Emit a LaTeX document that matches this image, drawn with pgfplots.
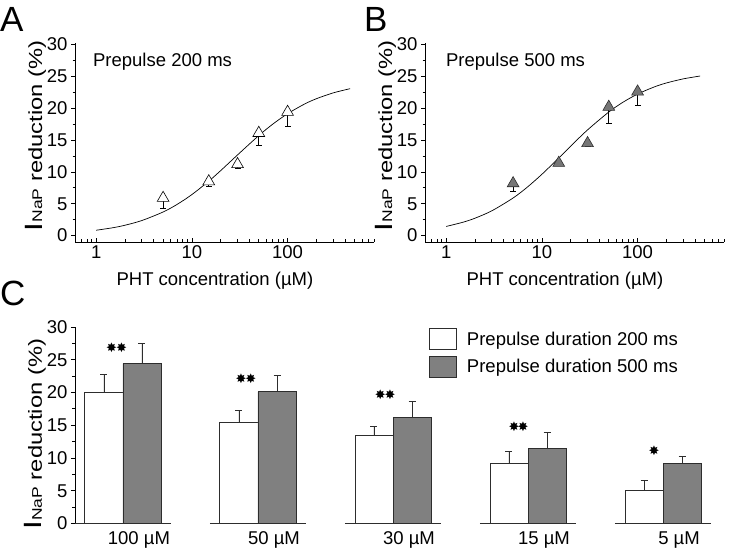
\documentclass[border=0pt]{standalone}
\usepackage{pgfplots}
\pgfplotsset{compat=1.18}
\usepackage{fontspec}
\setmainfont{Liberation Sans}
\newfontfamily\dejavu{DejaVu Sans}
\newfontfamily\stretchfont[FakeStretch=1.25]{Liberation Sans}
\definecolor{barg}{RGB}{128,128,128}
\definecolor{markg}{RGB}{118,118,118}
\definecolor{edge}{RGB}{45,45,45}

\newcommand{\ylab}{{\stretchfont\fontsize{25}{25}\selectfont I}{\stretchfont\fontsize{14}{14}\selectfont NaP}{\stretchfont\fontsize{19}{20}\selectfont\ reduction (\%)}}
\newcommand{\txt}{\fontsize{18.5}{20}\selectfont}
\newcommand{\letterfont}{\fontsize{35}{35}\selectfont}
\newcommand{\sstar}{{\dejavu\fontsize{13}{13}\selectfont ✸}}

\pgfplotsset{
  common/.style={
    scale only axis,
    axis lines*=left,
    axis line style={line width=0.9pt, black},
    tick style={line width=0.8pt, black},
    major tick length=4pt, minor tick length=2.5pt,
    ytick align=outside,
    tick label style={font=\txt},
    /pgf/number format/assume math mode=true,
    ylabel={\ylab},
    ytick={0,5,10,15,20,25,30},
    yticklabels={0,5,10,15,20,25,30},
    minor ytick={2.5,7.5,12.5,17.5,22.5,27.5},
    clip=false,
  },
  logax/.style={
    width=299pt, height=199.4pt,
    xmin=0.6, xmax=800, ymin=-1, ymax=30.3,
    xtick align=inside,
    xtick={1,10,100}, xticklabels={1,10,100},
    minor xtick={0.6,0.7,0.8,0.9,2,3,4,5,6,7,8,9,20,30,40,50,60,70,80,90,200,300,400,500,600,700,800},
    xlabel={PHT concentration (µM)},
    xlabel style={font=\txt, at={(axis description cs:0.468,-0.218)}, anchor=base},
    ylabel style={at={(axis description cs:-0.11,0.532)}, anchor=base},
  },
}

\begin{document}
\begin{tikzpicture}
\useasboundingbox (0pt,0pt) rectangle (729pt,-556pt);
\node[anchor=base west, inner sep=0pt, font=\letterfont] at (0pt,-32pt) {A};
\node[anchor=base west, inner sep=0pt, font=\letterfont] at (364pt,-32pt) {B};
\node[anchor=base west, inner sep=0pt, font=\letterfont] at (0pt,-306pt) {C};

% ---------------- Panel A
\begin{axis}[xmode=log, common, logax, at={(75pt,-242pt)}]
\addplot[black, line width=0.7pt, smooth] table {
x y
1 0.845
1.5 1.246
2 1.633
3 2.371
5 3.712
7 4.900
10 6.447
15 8.547
20 10.208
30 12.672
50 15.705
70 17.500
100 19.141
150 20.646
200 21.491
300 22.409
450 23.065
};
\addplot[only marks, mark=triangle*, mark size=6.8pt,
  mark options={fill=white, draw=black, line width=0.6pt},
  error bars/.cd, y dir=minus, y explicit,
  error bar style={line width=0.6pt, black},
  error mark options={line width=0.6pt, mark size=3pt, rotate=90}]
  table[x=x, y=y, y error=e] {
x y e
5 5.9 1.6
15 8.5 0.8
30 11.2 0.6
50 16.1 1.9
100 19.4 2.2
};
\node[anchor=base west, font=\txt, inner sep=0pt] at (axis description cs:0.06,0.878) {Prepulse 200 ms};
\end{axis}

% ---------------- Panel B
\begin{axis}[xmode=log, common, logax, at={(425pt,-242pt)}]
\addplot[black, line width=0.7pt, smooth] table {
x y
1 1.444
1.5 2.108
2 2.737
3 3.900
5 5.909
7 7.583
10 9.630
15 12.188
20 14.054
30 16.596
50 19.403
70 20.920
100 22.222
150 23.353
200 23.963
300 24.606
450 25.054
};
\addplot[only marks, mark=triangle*, mark size=6.8pt,
  mark options={fill=markg, draw=edge, line width=0.6pt},
  error bars/.cd, y dir=minus, y explicit,
  error bar style={line width=0.6pt, black},
  error mark options={line width=0.6pt, mark size=3pt, rotate=90}]
  table[x=x, y=y, y error=e] {
x y e
5 8.2 1.2
15 11.4 0.4
30 14.5 0.4
50 20.2 2.6
100 22.6 2.2
};
\node[anchor=base west, font=\txt, inner sep=0pt] at (axis description cs:0.07,0.878) {Prepulse 500 ms};
\end{axis}

% ---------------- Panel C
\begin{axis}[common, at={(75pt,-523.5pt)},
  width=636pt, height=196.5pt,
  xmin=-0.355, xmax=4.355, ymin=0, ymax=30,
  x axis line style={draw=none},
  xtick={0,1,2,3,4}, xticklabels={100 µM,50 µM,30 µM,15 µM,5 µM},
  xtick style={draw=none},
  xticklabel style={xshift=16pt, yshift=-5pt},
  ylabel style={at={(axis description cs:-0.052,0.455)}, anchor=base},
  legend style={at={(axis description cs:0.5566,0.995)}, anchor=north west,
    draw=none, fill=none, font=\txt, row sep=6pt, inner sep=0pt,
    nodes={inner sep=1pt},
    /tikz/every odd column/.append style={column sep=9pt}},
  legend cell align=left,
]
\addplot[ybar, bar width=0.282, bar shift=0, fill=white, draw=edge, line width=0.8pt,
  legend image code/.code={\draw[fill=white, draw=edge, line width=0.8pt] (0pt,-10.5pt) rectangle (27pt,10.5pt);},
  error bars/.cd, y dir=plus, y explicit,
  error bar style={line width=0.7pt, edge},
  error mark options={line width=0.7pt, mark size=3.5pt, rotate=90}]
  table[x=x, y=y, y error=e] {
x y e
-0.141 20.0 2.8
0.859 15.4 1.9
1.859 13.4 1.4
2.859 9.2 1.8
3.859 5.1 1.5
};
\addlegendentry{Prepulse duration 200 ms}
\addplot[ybar, bar width=0.282, bar shift=0, fill=barg, draw=edge, line width=0.8pt,
  legend image code/.code={\draw[fill=barg, draw=edge, line width=0.8pt] (0pt,-10.5pt) rectangle (27pt,10.5pt);},
  error bars/.cd, y dir=plus, y explicit,
  error bar style={line width=0.7pt, edge},
  error mark options={line width=0.7pt, mark size=3.5pt, rotate=90}]
  table[x=x, y=y, y error=e] {
x y e
0.141 24.4 3.1
1.141 20.1 2.5
2.141 16.2 2.4
3.141 11.4 2.5
4.141 9.1 1.1
};
\addlegendentry{Prepulse duration 500 ms}
% broken baselines
\addplot[forget plot, edge, line width=0.8pt] coordinates {(-0.355,0) (0.356,0)};
\addplot[forget plot, edge, line width=0.8pt] coordinates {(0.644,0) (1.356,0)};
\addplot[forget plot, edge, line width=0.8pt] coordinates {(1.644,0) (2.356,0)};
\addplot[forget plot, edge, line width=0.8pt] coordinates {(2.644,0) (3.356,0)};
\addplot[forget plot, edge, line width=0.8pt] coordinates {(3.644,0) (4.355,0)};
% significance stars
\addplot[forget plot, only marks, mark=text, text mark={\sstar}]
  coordinates {(-0.085,26.9) (-0.010,26.9) (0.874,22.1) (0.948,22.1)
               (1.907,19.7) (1.978,19.7) (2.896,14.8) (2.963,14.8) (3.933,11.1)};
\end{axis}
\end{tikzpicture}
\end{document}
